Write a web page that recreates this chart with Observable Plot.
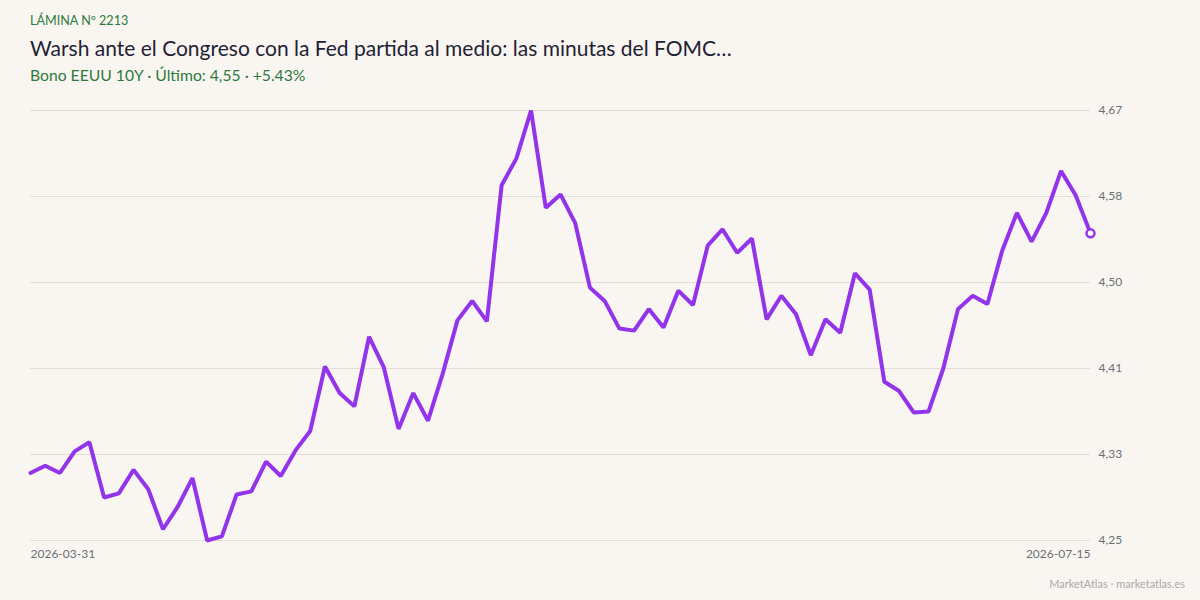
<!DOCTYPE html>
<html>
<head>
<meta charset="utf-8">
<script src="https://cdn.jsdelivr.net/npm/d3@7"></script>
<script src="https://cdn.jsdelivr.net/npm/@observablehq/plot@0.6"></script>
<style>
  html, body { margin: 0; padding: 0; }
  body {
    width: 1200px; height: 600px; position: relative; overflow: hidden;
    background: #f9f6f1; font-family: Lato, "Open Sans", sans-serif;
  }
  .txt { position: absolute; left: 30px; line-height: 1; white-space: nowrap; }
  #kicker { top: 14.5px; font-size: 12.6px; color: #2e7a3c; }
  #title { top: 37px; font-size: 21px; color: #1f2234; }
  #subtitle { top: 68px; font-size: 15.7px; color: #2e7a3c; }
  #chart { position: absolute; left: 0; top: 95px; }
  #footer { position: absolute; right: 15px; top: 578px; font-size: 11px; line-height: 1; color: #a9a9a9; }
</style>
</head>
<body>
<div class="txt" id="kicker">LÁMINA Nº 2213</div>
<div class="txt" id="title">Warsh ante el Congreso con la Fed partida al medio: las minutas del FOMC…</div>
<div class="txt" id="subtitle"></div>
<div id="chart"></div>
<div id="footer">MarketAtlas · marketatlas.es</div>
<script>
// Trading sessions (US bond market), 2026-03-31 to 2026-07-15
const dates = [
  "2026-03-31",
  "2026-04-01","2026-04-02","2026-04-06","2026-04-07","2026-04-08","2026-04-09","2026-04-10",
  "2026-04-13","2026-04-14","2026-04-15","2026-04-16","2026-04-17","2026-04-20","2026-04-21",
  "2026-04-22","2026-04-23","2026-04-24","2026-04-27","2026-04-28","2026-04-29","2026-04-30",
  "2026-05-01","2026-05-04","2026-05-05","2026-05-06","2026-05-07","2026-05-08","2026-05-11",
  "2026-05-12","2026-05-13","2026-05-14","2026-05-15","2026-05-18","2026-05-19","2026-05-20",
  "2026-05-21","2026-05-22","2026-05-26","2026-05-27","2026-05-28","2026-05-29",
  "2026-06-01","2026-06-02","2026-06-03","2026-06-04","2026-06-05","2026-06-08","2026-06-09",
  "2026-06-10","2026-06-11","2026-06-12","2026-06-15","2026-06-16","2026-06-17","2026-06-18",
  "2026-06-22","2026-06-23","2026-06-24","2026-06-25","2026-06-26","2026-06-29","2026-06-30",
  "2026-07-01","2026-07-02","2026-07-06","2026-07-07","2026-07-08","2026-07-09","2026-07-10",
  "2026-07-13","2026-07-14","2026-07-15"
];

// 10-year Treasury yield, %
const yields = [
  4.312, 4.319, 4.312, 4.333, 4.342, 4.288, 4.292, 4.315, 4.296, 4.257,
  4.279, 4.307, 4.246, 4.250, 4.291, 4.294, 4.323, 4.309, 4.334, 4.353,
  4.416, 4.390, 4.377, 4.445, 4.415, 4.355, 4.390, 4.363, 4.409, 4.461,
  4.480, 4.460, 4.593, 4.619, 4.666, 4.571, 4.584, 4.556, 4.493, 4.480,
  4.453, 4.451, 4.472, 4.454, 4.490, 4.476, 4.534, 4.550, 4.527, 4.541,
  4.462, 4.485, 4.467, 4.427, 4.462, 4.449, 4.507, 4.491, 4.401, 4.392,
  4.371, 4.372, 4.414, 4.472, 4.485, 4.477, 4.529, 4.566, 4.538, 4.566,
  4.607, 4.583, 4.546
];

const lineColor = "#9333ea";
const comma = v => v.toFixed(2).replace(".", ",");

const series = dates.map((d, i) => ({date: d, value: yields[i]}));
const first = series[0];
const last = series[series.length - 1];
const change = (last.value / first.value - 1) * 100;

document.getElementById("subtitle").textContent =
  `Bono EEUU 10Y · Último: ${comma(last.value)} · +${change.toFixed(2)}%`;

// Five equal steps between the lowest and highest close
const [yMin, yMax] = d3.extent(yields);
const yTicks = d3.range(6).map(k => yMin + k * (yMax - yMin) / 5);

const chart = Plot.plot({
  width: 1200,
  height: 475,
  marginLeft: 30,
  marginRight: 110,
  marginTop: 15,
  marginBottom: 30,
  style: {background: "transparent", fontFamily: "Lato, sans-serif", fontSize: "12px", color: "#6b6f76"},
  x: {type: "point", domain: dates, padding: 0, label: null},
  y: {domain: [yMin, yMax], label: null},
  marks: [
    Plot.gridY(yTicks, {stroke: "#e3ded5", strokeOpacity: 1, strokeWidth: 1}),
    Plot.axisY(yTicks, {anchor: "right", tickSize: 0, tickPadding: 8, tickFormat: comma, fill: "#6b6f76"}),
    Plot.axisX([dates[0]], {tickSize: 0, tickPadding: 9, textAnchor: "start", fill: "#6b6f76"}),
    Plot.axisX([dates[dates.length - 1]], {tickSize: 0, tickPadding: 9, textAnchor: "end", fill: "#6b6f76"}),
    Plot.line(series, {x: "date", y: "value", stroke: lineColor, strokeWidth: 4, strokeLinejoin: "miter"}),
    Plot.dot([last], {x: "date", y: "value", r: 4, fill: "#ffffff", stroke: lineColor, strokeWidth: 2.5})
  ]
});

document.getElementById("chart").appendChild(chart);
</script>
</body>
</html>
